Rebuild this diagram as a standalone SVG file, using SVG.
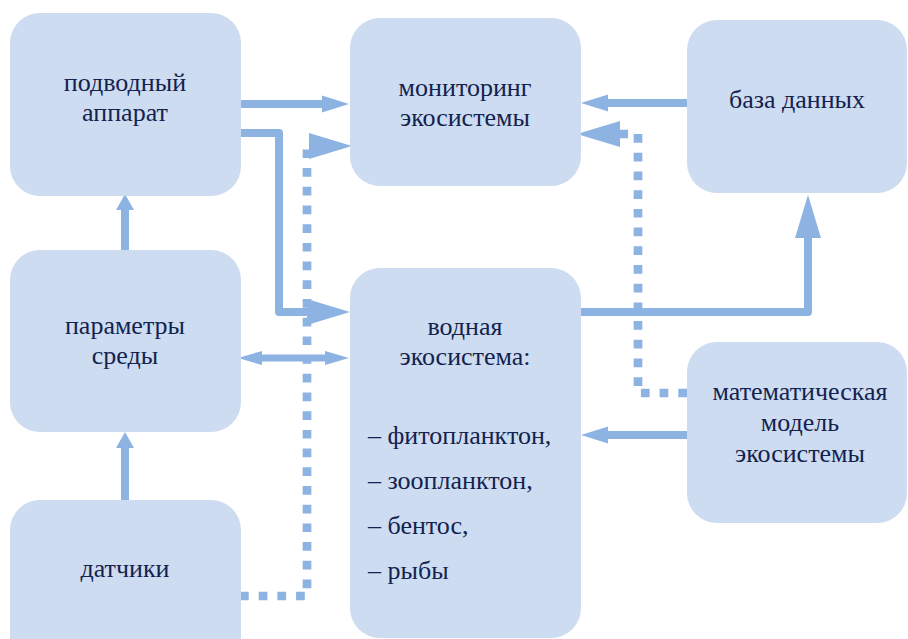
<svg xmlns="http://www.w3.org/2000/svg" width="908" height="639" viewBox="0 0 908 639">
<style>
.box{fill:#cddcf0;}
.t{font-family:"Liberation Serif","Times New Roman",serif;font-size:26px;fill:#13224f;text-anchor:middle;}
.l{text-anchor:start;}
.c{fill:none;stroke:#8db3e2;stroke-width:8;stroke-linejoin:round;}
.d{fill:none;stroke:#8db3e2;stroke-width:8.7;stroke-dasharray:8.7 10;}
</style>
<defs>
<marker id="aS" markerUnits="userSpaceOnUse" markerWidth="30" markerHeight="20" viewBox="0 -10 30 20" refX="1" refY="0" orient="auto" overflow="visible"><path d="M0,-8.5 L27,0 L0,8.5 z" fill="#8db3e2"/></marker>
<marker id="aL" markerUnits="userSpaceOnUse" markerWidth="46" markerHeight="28" viewBox="0 -14 46 28" refX="1" refY="0" orient="auto" overflow="visible"><path d="M0,-13 L43,0 L0,13 z" fill="#8db3e2"/></marker>
<marker id="aM" markerUnits="userSpaceOnUse" markerWidth="20" markerHeight="20" viewBox="0 -10 20 20" refX="1" refY="0" orient="auto" overflow="visible"><path d="M0,-9 L16,0 L0,9 z" fill="#8db3e2"/></marker>
<marker id="aD" markerUnits="userSpaceOnUse" markerWidth="26" markerHeight="16" viewBox="0 -8 26 16" refX="1" refY="0" orient="auto-start-reverse" overflow="visible"><path d="M0,-7 L24,0 L0,7 z" fill="#8db3e2"/></marker>
</defs>

<g id="connectors">
<path class="d" d="M240,596 H307 V146 H310" marker-end="url(#aL)"/>
<path class="d" d="M687,393 H638 V134 H619" marker-end="url(#aL)"/>
<path class="c" d="M241,104 H323" marker-end="url(#aS)"/>
<path class="c" d="M241,133 H279 V312 H308" marker-end="url(#aL)"/>
<path class="c" d="M687,103 H607" marker-end="url(#aS)"/>
<path class="c" d="M580,312 H808 V237" marker-end="url(#aL)"/>
<path class="c" d="M687,435 H607" marker-end="url(#aS)"/>
<path class="c" d="M125,250 V209" marker-end="url(#aM)"/>
<path class="c" d="M125,500 V447" marker-end="url(#aM)"/>
<path class="c" style="stroke-width:7" d="M261,358 H326" marker-start="url(#aD)" marker-end="url(#aD)"/>
</g>

<g id="podvodny">
<rect class="box" x="10" y="13" width="231" height="183" rx="30"/>
<text class="t" x="125" y="91">подводный</text>
<text class="t" x="125" y="121">аппарат</text>
</g>
<g id="monitoring">
<rect class="box" x="350" y="18" width="231" height="168" rx="30"/>
<text class="t" x="465" y="96">мониторинг</text>
<text class="t" x="465" y="126">экосистемы</text>
</g>
<g id="baza">
<rect class="box" x="687" y="20" width="220" height="173" rx="30"/>
<text class="t" x="797" y="108">база данных</text>
</g>
<g id="parametry">
<rect class="box" x="10" y="250" width="231" height="182" rx="30"/>
<text class="t" x="125" y="334">параметры</text>
<text class="t" x="125" y="364">среды</text>
</g>
<g id="vodnaya">
<rect class="box" x="350" y="268" width="231" height="370" rx="30"/>
<text class="t" x="465" y="335">водная</text>
<text class="t" x="465" y="365">экосистема:</text>
<text class="t l" x="368" y="444">– фитопланктон,</text>
<text class="t l" x="368" y="489">– зоопланктон,</text>
<text class="t l" x="368" y="534">– бентос,</text>
<text class="t l" x="368" y="579">– рыбы</text>
</g>
<g id="model">
<rect class="box" x="687" y="342" width="220" height="181" rx="30"/>
<text class="t" x="800" y="400">математическая</text>
<text class="t" x="800" y="431">модель</text>
<text class="t" x="800" y="462">экосистемы</text>
</g>
<g id="datchiki">
<rect class="box" x="10" y="500" width="231" height="170" rx="30"/>
<text class="t" x="125" y="577">датчики</text>
</g>
</svg>
